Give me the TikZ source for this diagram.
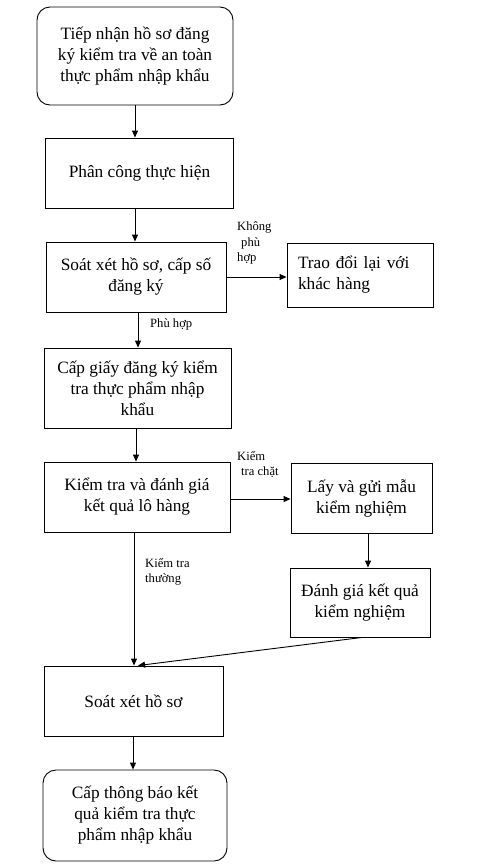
\documentclass[tikz,border=0pt]{standalone}
\usepackage{fontspec}
\setmainfont{Liberation Serif}
\usetikzlibrary{arrows.meta}
\begin{document}
\begin{tikzpicture}[x=1pt,y=-1pt,
  box/.style={draw,line width=0.9pt,align=center,inner sep=0pt,font=\fontsize{17.3}{21}\selectfont},
  rbox/.style={box,rounded corners=13pt},
  arr/.style={-{Triangle[width=6pt,length=7pt]},line width=0.9pt},
  lbl/.style={align=left,inner sep=0pt,font=\fontsize{12.6}{15.5}\selectfont,anchor=north west}]
\useasboundingbox (0,0) rectangle (480,865);
\node[rbox,minimum width=196pt,minimum height=98pt] (n1) at (135,56) {Tiếp nhận hồ sơ đăng\\ký kiểm tra về an toàn\\thực phẩm nhập khẩu};
\node[box,minimum width=188pt,minimum height=70pt] (n2) at (139.5,173) {Phân công thực hiện};
\node[box,minimum width=180pt,minimum height=70pt] (n3) at (136,277) {Soát xét hồ sơ, cấp số\\đăng ký};
\node[box,align=left,minimum width=146pt,minimum height=64pt,text width=124pt] (n4) at (360,275) {Trao đổi lại với\\khác hàng};
\node[box,minimum width=187pt,minimum height=80pt] (n5) at (137.5,388) {Cấp giấy đăng ký kiểm\\tra thực phẩm nhập\\khẩu};
\node[box,minimum width=186pt,minimum height=70pt] (n6) at (137,497) {Kiểm tra và đánh giá\\kết quả lô hàng};
\node[box,minimum width=141pt,minimum height=70pt] (n7) at (361.5,498) {Lấy và gửi mẫu\\kiểm nghiệm};
\node[box,minimum width=140pt,minimum height=69pt] (n8) at (360,602.5) {Đánh giá kết quả\\kiểm nghiệm};
\node[box,minimum width=179pt,minimum height=70pt] (n9) at (133.5,701) {Soát xét hồ sơ};
\node[rbox,minimum width=184pt,minimum height=91pt] (n10) at (135,815.5) {Cấp thông báo kết\\quả kiểm tra thực\\phẩm nhập khẩu};
\draw[arr] (n1.south) -- (n2.north -| n1.south);
\draw[arr] (n2.south -| n1.south) -- (n3.north -| n1.south);
\draw[arr] (n3.east |- 0,277) -- (n4.west |- 0,277);
\draw[arr] (n3.south -| 138,0) -- (n5.north -| 138,0);
\draw[arr] (n5.south -| 136,0) -- (n6.north -| 136,0);
\draw[arr] (n6.east |- 0,499) -- (n7.west |- 0,499);
\draw[arr] (n7.south -| 368,0) -- (n8.north -| 368,0);
\draw[arr] (n6.south -| 134,0) -- (n9.north -| 134,0);
\draw[arr] (n8.south -| 362,0) -- (n9.north -| 138,0);
\draw[arr] (n9.south -| 133,0) -- (n10.north -| 133,0);
\node[lbl] (l1) at (237,222) {Không\\\hspace{4pt}phù\\hợp};
\node[lbl] (l2) at (150,319) {Phù hợp};
\node[lbl] (l3) at (237,451) {Kiểm\\\hspace{4pt}tra chặt};
\node[lbl] (l4) at (145,558) {Kiểm tra\\thường};
\end{tikzpicture}
\end{document}
